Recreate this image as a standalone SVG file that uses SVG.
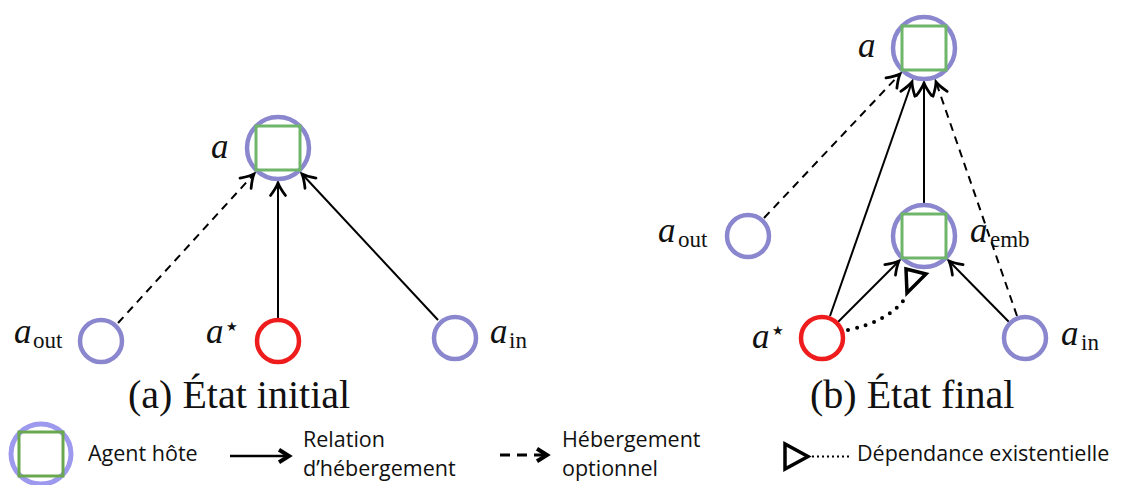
<svg xmlns="http://www.w3.org/2000/svg" width="1126" height="485" viewBox="0 0 1126 485">
<style>
.host{fill:none;stroke:#8b87cf;stroke-width:4.5}
.sq{fill:none;stroke:#6fb56a;stroke-width:3}
.red{fill:none;stroke:#ee1c1c;stroke-width:4.5}
.e{stroke:#000;stroke-width:2;fill:none}
.d{stroke-dasharray:8 6}
.m{font-family:"Liberation Serif",serif;font-style:italic;font-size:35px;fill:#111}
.s{font-family:"Liberation Serif",serif;font-size:23px;fill:#111}
.st{font-family:"DejaVu Sans",sans-serif;font-size:13px;fill:#111}
.cap{font-family:"Liberation Serif",serif;font-size:40px;fill:#111}
.lg{font-family:"Open Sans","Liberation Sans",sans-serif;font-size:21.5px;fill:#111}
</style>
<defs>
<marker id="v" markerUnits="userSpaceOnUse" markerWidth="20" markerHeight="20" viewBox="-12 -8 14 16" refX="0" refY="0" orient="auto">
<path d="M-10,-6 Q-4,-1.5 0,0 Q-4,1.5 -10,6" fill="none" stroke="#000" stroke-width="2.2" stroke-linecap="round"/>
</marker>
<marker id="lv" markerUnits="userSpaceOnUse" markerWidth="20" markerHeight="20" viewBox="-12 -8 14 16" refX="0" refY="0" orient="auto">
<path d="M-8,-5 L0,0 L-8,5" fill="none" stroke="#000" stroke-width="3.2"/>
</marker>
</defs>
<rect width="1126" height="485" fill="#fff"/>

<g id="connectors">
<line class="e d" x1="118" y1="323" x2="254" y2="174" marker-end="url(#v)"/>
<line class="e" x1="278" y1="318" x2="278" y2="183" marker-end="url(#v)"/>
<line class="e" x1="438" y1="320" x2="302" y2="174" marker-end="url(#v)"/>
<line class="e d" x1="764" y1="218" x2="900" y2="74" marker-end="url(#v)"/>
<line class="e" x1="830" y1="316" x2="912" y2="82" marker-end="url(#v)"/>
<line class="e" x1="924" y1="203" x2="924" y2="83" marker-end="url(#v)"/>
<line class="e d" x1="1017" y1="316" x2="936" y2="82" marker-end="url(#v)"/>
<line class="e" x1="838" y1="322" x2="899" y2="261" marker-end="url(#v)"/>
<line class="e" x1="1009" y1="322" x2="949" y2="261" marker-end="url(#v)"/>
<path d="M848,330 Q893,320 907,295" fill="none" stroke="#000" stroke-width="4" stroke-linecap="round" stroke-dasharray="0 9"/>
<polygon points="906,269 926,274 907,293" fill="#fff" stroke="#000" stroke-width="3.5" stroke-linejoin="miter"/>
</g>

<g id="node-a-a">
<circle class="host" cx="278" cy="148" r="31"/>
<rect class="sq" x="256" y="126" width="44" height="44"/>
<text class="m" x="211" y="158">a</text>
</g>
<g id="node-a-out">
<circle class="host" cx="101" cy="341" r="21"/>
<text class="m" x="14" y="343">a</text><text class="s" x="33" y="348">out</text>
</g>
<g id="node-a-star">
<circle class="red" cx="278" cy="341" r="21"/>
<text class="m" x="206" y="343">a</text><text class="st" x="226" y="331">★</text>
</g>
<g id="node-a-in">
<circle class="host" cx="455" cy="338" r="21"/>
<text class="m" x="490" y="343">a</text><text class="s" x="509" y="348">in</text>
</g>
<text class="cap" x="128" y="408">(a) État initial</text>

<g id="node-b-a">
<circle class="host" cx="924" cy="48" r="31"/>
<rect class="sq" x="902" y="26" width="44" height="44"/>
<text class="m" x="858" y="57">a</text>
</g>
<g id="node-b-emb">
<circle class="host" cx="924" cy="236" r="31"/>
<rect class="sq" x="902" y="214" width="44" height="44"/>
<text class="m" x="970" y="242">a</text><text class="s" x="990" y="247">emb</text>
</g>
<g id="node-b-out">
<circle class="host" cx="748" cy="236" r="21"/>
<text class="m" x="658" y="242">a</text><text class="s" x="678" y="247">out</text>
</g>
<g id="node-b-star">
<circle class="red" cx="822" cy="338" r="21"/>
<text class="m" x="752" y="348">a</text><text class="st" x="772" y="335">★</text>
</g>
<g id="node-b-in">
<circle class="host" cx="1025" cy="338" r="21"/>
<text class="m" x="1061" y="345">a</text><text class="s" x="1081" y="350">in</text>
</g>
<text class="cap" x="810" y="408">(b) État final</text>

<g id="legend">
<circle cx="41" cy="454" r="30" fill="none" stroke="#9d99ee" stroke-width="5"/>
<rect x="19" y="432" width="44" height="44" fill="none" stroke="#6aa84f" stroke-width="3"/>
<text class="lg" x="88" y="461">Agent hôte</text>
<line x1="230" y1="456" x2="289" y2="456" stroke="#000" stroke-width="2.5" marker-end="url(#lv)"/>
<text class="lg" x="303" y="447">Relation</text>
<text class="lg" x="303" y="476">d’hébergement</text>
<line x1="500" y1="455" x2="547" y2="455" stroke="#000" stroke-width="3" stroke-dasharray="10 7" marker-end="url(#lv)"/>
<text class="lg" x="562" y="447">Hébergement</text>
<text class="lg" x="562" y="476">optionnel</text>
<polygon points="785,444 785,469 808,456.5" fill="#fff" stroke="#000" stroke-width="3.5"/>
<line x1="812" y1="456.5" x2="852" y2="456.5" stroke="#000" stroke-width="2" stroke-dasharray="2 3"/>
<text class="lg" x="857" y="461">Dépendance existentielle</text>
</g>
</svg>
